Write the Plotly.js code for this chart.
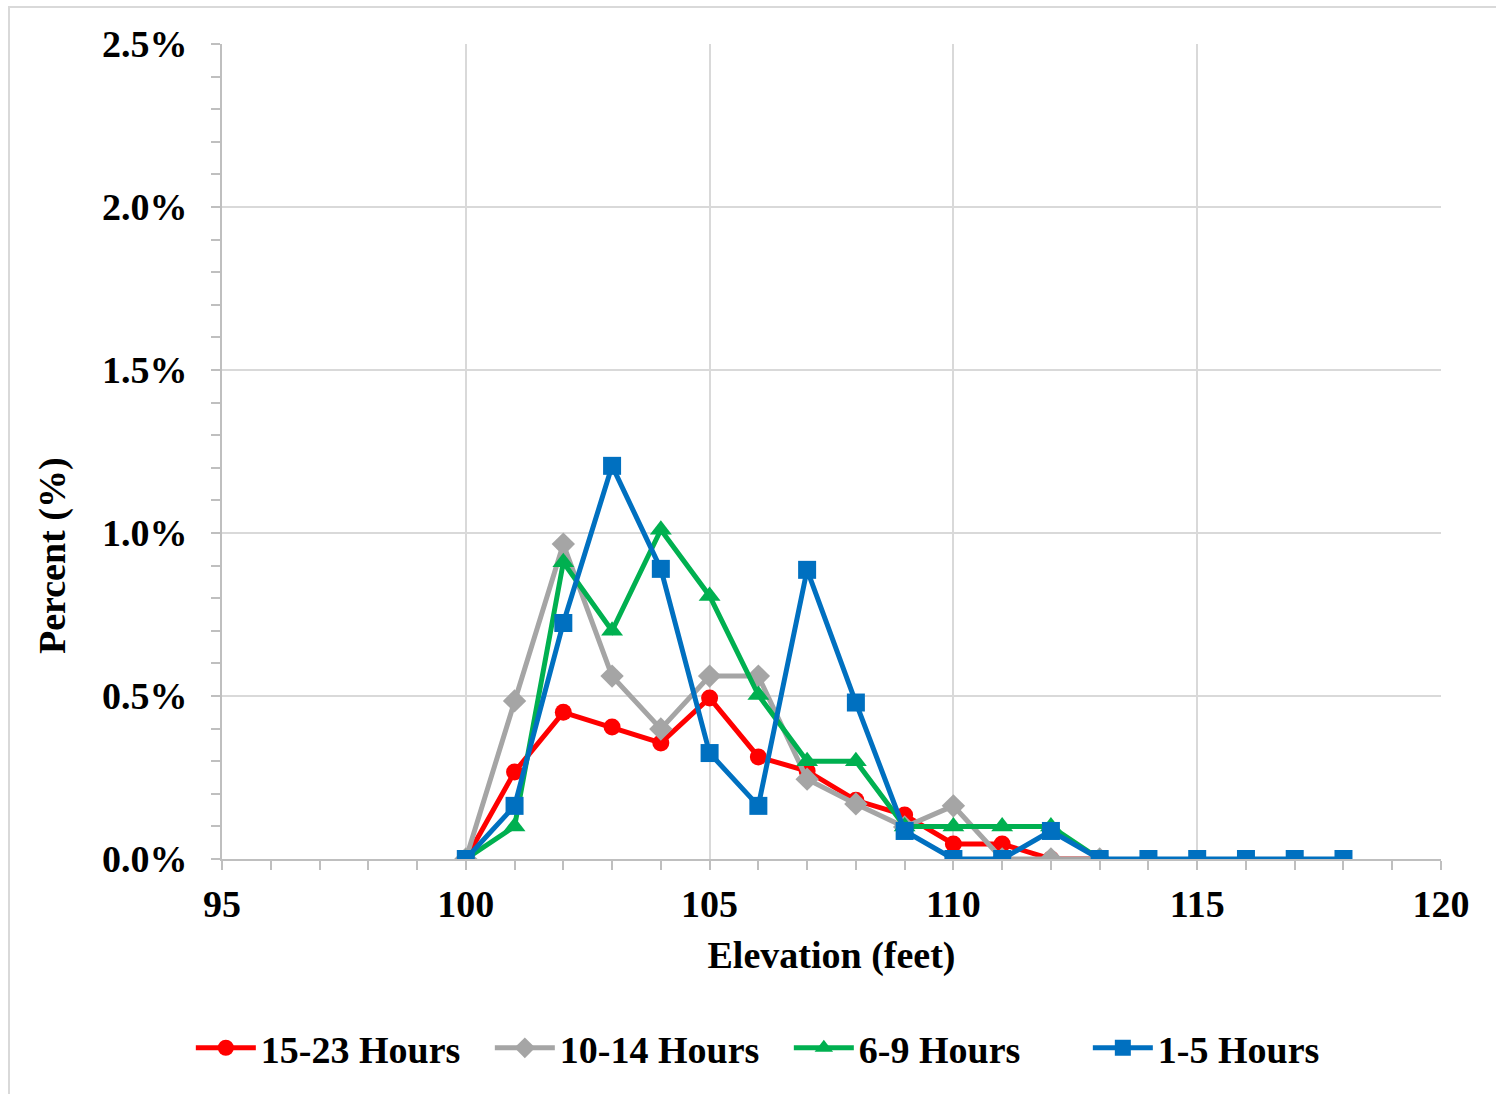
<!DOCTYPE html>
<html>
<head>
<meta charset="utf-8">
<script src="https://cdn.plot.ly/plotly-3.0.1.min.js"></script>
<style>
html,body{margin:0;padding:0;background:#fff;}
#chart{width:1496px;height:1094px;}
</style>
</head>
<body>
<div id="chart"></div>
<script>
// Data (percent)
const elevA = [100,101,102,103,104,105,106,107,108,109,110,111,112,113];
const elevB = [100,101,102,103,104,105,106,107,108,109,110,111,112,113,114,115,116,117,118];
const hrs15_23 = [0,0.267,0.45,0.405,0.356,0.494,0.313,0.27,0.18,0.135,0.046,0.046,0,0];
const hrs10_14 = [0,0.485,0.966,0.561,0.399,0.561,0.561,0.245,0.169,0.098,0.163,0,0,0];
const hrs6_9   = [0,0.10,0.91,0.70,1.01,0.807,0.503,0.30,0.30,0.10,0.10,0.10,0.10,0];
const hrs1_5   = [0,0.163,0.724,1.206,0.89,0.325,0.163,0.887,0.48,0.086,0,0,0.086,0,0,0,0,0,0];
const seriesNames = ['15-23 Hours','10-14 Hours','6-9 Hours','1-5 Hours'];
const xTitle = 'Elevation (feet)';
const yTitle = 'Percent (%)';

const FONT = '"Liberation Serif", "Times New Roman", serif';
const FS = 38;

function tr(x, y, name, color, symbol, size){
  return {
    x: x, y: y, name: name, type: 'scatter', mode: 'lines+markers',
    line: {color: color, width: 5},
    marker: {color: color, symbol: symbol, size: size, line: {width: 0}}
  };
}

const data = [
  tr(elevA, hrs15_23, seriesNames[0], '#ff0000', 'circle', 17),
  tr(elevA, hrs10_14, seriesNames[1], '#a5a5a5', 'diamond', 18),
  tr(elevA, hrs6_9,   seriesNames[2], '#00b050', 'triangle-up', 19),
  tr(elevB, hrs1_5,   seriesNames[3], '#0070c0', 'square', 18)
];

const gridc = '#d9d9d9';
const axc = '#bfbfbf';

const layout = {
  width: 1496, height: 1094,
  margin: {l: 222, r: 55, t: 44, b: 235},
  paper_bgcolor: '#fff', plot_bgcolor: '#fff',
  font: {family: FONT, size: FS, color: '#000', weight: 'bold'},
  showlegend: true,
  xaxis: {
    range: [95, 120], dtick: 5, tick0: 95,
    showgrid: true, gridcolor: gridc, gridwidth: 2,
    showline: true, linecolor: axc, linewidth: 2,
    ticks: 'outside', ticklen: 9, tickcolor: axc, tickwidth: 2,
    minor: {dtick: 1, ticks: 'outside', ticklen: 9, tickcolor: axc, tickwidth: 2, showgrid: false},
    tickfont: {family: FONT, size: FS, color: '#000', weight: 'bold'},
    ticklabelstandoff: 1,
    zeroline: false,
    title: {text: xTitle, font: {family: FONT, size: FS, color: '#000', weight: 'bold'}, standoff: 18}
  },
  yaxis: {
    range: [0, 2.5], dtick: 0.5,
    tickformat: '.1f', ticksuffix: '%',
    showgrid: true, gridcolor: gridc, gridwidth: 2,
    showline: true, linecolor: axc, linewidth: 2,
    ticks: 'outside', ticklen: 9, tickcolor: axc, tickwidth: 2,
    minor: {dtick: 0.1, ticks: 'outside', ticklen: 9, tickcolor: axc, tickwidth: 2, showgrid: false},
    tickfont: {family: FONT, size: FS, color: '#000', weight: 'bold'},
    ticklabelstandoff: 16,
    zeroline: false
  },
  legend: {
    orientation: 'h', x: 0.465, xanchor: 'center', y: -0.232, yanchor: 'middle',
    font: {family: FONT, size: FS, color: '#000', weight: 'bold'},
    itemwidth: 60, entrywidth: 224, entrywidthmode: 'pixels',
    tracegroupgap: 0, bgcolor: 'rgba(0,0,0,0)'
  },
  annotations: [{
    text: yTitle, textangle: -90, showarrow: false,
    xref: 'paper', yref: 'paper',
    x: (52 - 222) / 1219, y: (859 - 556) / 815,
    xanchor: 'center', yanchor: 'middle',
    font: {family: FONT, size: FS, color: '#000', weight: 'bold'}
  }],
  shapes: [{
    type: 'rect', xref: 'paper', yref: 'paper',
    x0: (9 - 222) / 1219, x1: (1520 - 222) / 1219,
    y0: (859 - 1120) / 815, y1: (859 - 7) / 815,
    line: {color: '#d9d9d9', width: 2}, fillcolor: 'rgba(0,0,0,0)', layer: 'below'
  }]
};

Plotly.newPlot('chart', data, layout, {displayModeBar: false, staticPlot: true});
</script>
</body>
</html>
